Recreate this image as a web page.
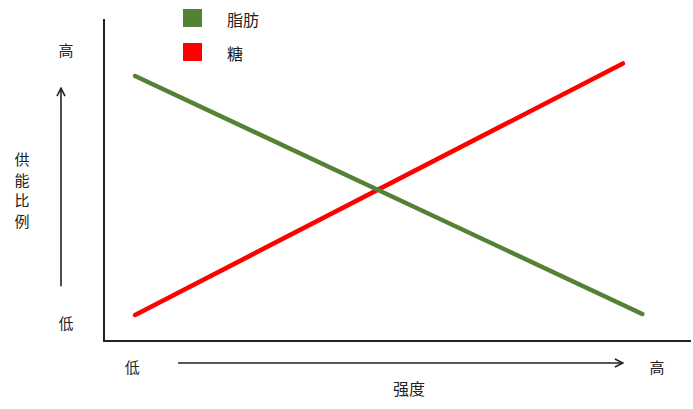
<!DOCTYPE html>
<html>
<head>
<meta charset="utf-8">
<script src="https://cdn.jsdelivr.net/npm/d3@7"></script>
<style>
  body { margin: 0; background: #fff; }
  text { font-family: "Noto Sans CJK SC", "Noto Sans", sans-serif; fill: #222; }
</style>
</head>
<body>
<div id="chart"></div>
<script>
// Series: intensity (x) vs share of energy supply (y), 0-100 scale
const fatX = [5.3, 91.7];
const fatY = [82.3, 8.4];
const sugarX = [5.3, 88.4];
const sugarY = [8.1, 86.2];

const seriesNames = ["脂肪", "糖"];
const seriesColors = ["#548235", "#ff0000"];
const yTickLabels = ["低", "高"];
const xTickLabels = ["低", "高"];
const yTitle = "供能比例";
const xTitle = "强度";

const width = 693,
  height = 409;
const margin = { top: 19, right: 2, bottom: 68, left: 104 };

const svg = d3
  .select("#chart")
  .append("svg")
  .attr("width", width)
  .attr("height", height);

const xScale = d3
  .scaleLinear()
  .domain([0, 100])
  .range([margin.left, width - margin.right]);

const yScale = d3
  .scaleLinear()
  .domain([0, 100])
  .range([height - margin.bottom, margin.top]);

// Arrow marker (open chevron)
svg
  .append("defs")
  .append("marker")
  .attr("id", "arrow")
  .attr("viewBox", "0 0 10 10")
  .attr("refX", 9)
  .attr("refY", 5)
  .attr("markerWidth", 10)
  .attr("markerHeight", 10)
  .attr("markerUnits", "userSpaceOnUse")
  .attr("orient", "auto")
  .append("path")
  .attr("d", "M1,1 L9,5 L1,9")
  .attr("fill", "none")
  .attr("stroke", "#222")
  .attr("stroke-width", 1.6);

// Axes (no ticks)
const [x0, x1] = xScale.range();
const [y0, y1] = yScale.range();
svg
  .append("path")
  .attr("d", `M${x0},${y1} L${x0},${y0} L${x1},${y0}`)
  .attr("fill", "none")
  .attr("stroke", "#222")
  .attr("stroke-width", 2);

// Series lines
const line = d3
  .line()
  .x((d) => xScale(d[0]))
  .y((d) => yScale(d[1]));

const series = [
  { name: seriesNames[1], color: seriesColors[1], pts: d3.zip(sugarX, sugarY) },
  { name: seriesNames[0], color: seriesColors[0], pts: d3.zip(fatX, fatY) },
];

svg
  .selectAll(".series")
  .data(series)
  .enter()
  .append("path")
  .attr("class", "series")
  .attr("d", (d) => line(d.pts))
  .attr("fill", "none")
  .attr("stroke", (d) => d.color)
  .attr("stroke-width", 4.5)
  .attr("stroke-linecap", "round");

// Y side labels and arrow
const yLabX = 66;
svg
  .selectAll(".ytick")
  .data(yTickLabels)
  .enter()
  .append("text")
  .attr("x", yLabX)
  .attr("y", (d, i) => (i === 0 ? yScale(5.6) : yScale(90.5)))
  .attr("text-anchor", "middle")
  .attr("dominant-baseline", "central")
  .style("font-size", "15px")
  .text((d) => d);

svg
  .append("line")
  .attr("x1", 61)
  .attr("x2", 61)
  .attr("y1", yScale(17))
  .attr("y2", yScale(78.5))
  .attr("stroke", "#222")
  .attr("stroke-width", 1.6)
  .attr("marker-end", "url(#arrow)");

const yt = svg
  .append("text")
  .attr("x", 22)
  .style("font-size", "15px")
  .attr("text-anchor", "middle");
yTitle.split("").forEach((ch, i) => {
  yt.append("tspan")
    .attr("x", 22)
    .attr("y", 165 + i * 20.5)
    .text(ch);
});

// X side labels and arrow
svg
  .selectAll(".xtick")
  .data(xTickLabels)
  .enter()
  .append("text")
  .attr("x", (d, i) => (i === 0 ? xScale(4.8) : xScale(94.2)))
  .attr("y", 366)
  .attr("text-anchor", "middle")
  .attr("dominant-baseline", "central")
  .style("font-size", "15px")
  .text((d) => d);

svg
  .append("line")
  .attr("x1", xScale(12.6))
  .attr("x2", xScale(88.4))
  .attr("y1", 363)
  .attr("y2", 363)
  .attr("stroke", "#222")
  .attr("stroke-width", 1.6)
  .attr("marker-end", "url(#arrow)");

svg
  .append("text")
  .attr("x", 409)
  .attr("y", 388)
  .attr("text-anchor", "middle")
  .attr("dominant-baseline", "central")
  .style("font-size", "16px")
  .text(xTitle);

// Legend
const legend = svg
  .selectAll(".legend")
  .data(seriesNames)
  .enter()
  .append("g")
  .attr("class", "legend")
  .attr("transform", (d, i) => `translate(183,${9 + i * 34})`);

legend
  .append("rect")
  .attr("width", 19)
  .attr("height", 18)
  .attr("fill", (d, i) => seriesColors[i]);

legend
  .append("text")
  .attr("x", 44)
  .attr("y", 9.5)
  .attr("dominant-baseline", "central")
  .style("font-size", "16px")
  .text((d) => d);
</script>
</body>
</html>
